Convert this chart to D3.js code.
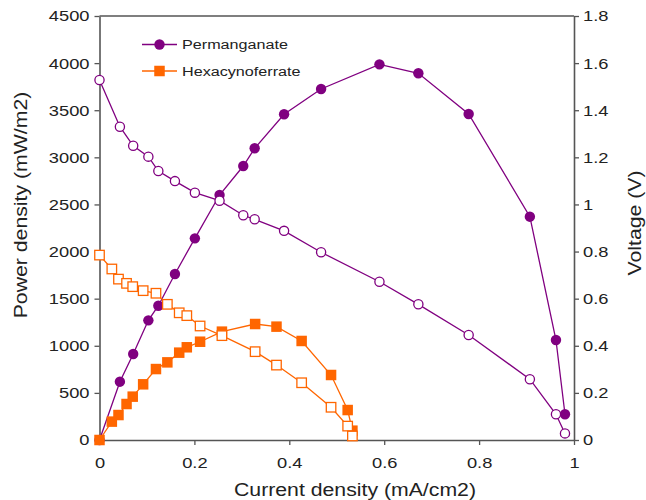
<!DOCTYPE html>
<html>
<head>
<meta charset="utf-8">
<script src="https://cdn.jsdelivr.net/npm/d3@7"></script>
<style>
  body { margin: 0; background: #fff; }
  svg { display: block; font-family: "Liberation Sans", Arial, sans-serif; }
</style>
</head>
<body>
<div id="vis"></div>
<script>
// values
const permCurrent = [0, 0.043, 0.071, 0.103, 0.124, 0.159, 0.201, 0.253, 0.303, 0.327, 0.389, 0.467, 0.590, 0.672, 0.778, 0.907, 0.962, 0.981]
const permPower   = [0, 619, 913, 1270, 1425, 1762, 2140, 2600, 2908, 3096, 3457, 3725, 3987, 3892, 3460, 2370, 1061, 273]
const permVoltage = [1.528, 1.330, 1.249, 1.203, 1.142, 1.099, 1.050, 1.016, 0.954, 0.937, 0.888, 0.797, 0.672, 0.576, 0.446, 0.258, 0.109, 0.028]

const hexaCurrent = [0, 0.026, 0.040, 0.057, 0.070, 0.092, 0.119, 0.143, 0.168, 0.184, 0.212, 0.258, 0.328, 0.373, 0.426, 0.488, 0.523, 0.533]
const hexaPower   = [0, 195, 265, 382, 460, 591, 753, 824, 927, 984, 1043, 1150, 1231, 1203, 1051, 690, 318, 99]
const hexaVoltage = [0.785, 0.726, 0.683, 0.665, 0.651, 0.634, 0.623, 0.576, 0.540, 0.528, 0.484, 0.443, 0.375, 0.318, 0.243, 0.139, 0.059, 0.017]

const xTicks = [0, 0.2, 0.4, 0.6, 0.8, 1]
const powerTicks = [0, 500, 1000, 1500, 2000, 2500, 3000, 3500, 4000, 4500]
const voltageTicks = [0, 0.2, 0.4, 0.6, 0.8, 1, 1.2, 1.4, 1.6, 1.8]

const purple = "#800080"
const orange = "#ff6600"
const axisColor = "#555"
const stretchK = 1.18   // the glyphs in the picture are a bit wider than Arial

var width = 646, height = 500
var plot = { left: 99.5, right: 574, top: 16, bottom: 440 }

var svg = d3.select("#vis").append("svg")
    .attr("width", width)
    .attr("height", height)

var x = d3.scaleLinear().domain([0, 1]).range([plot.left, plot.right])
var yP = d3.scaleLinear().domain([0, 4500]).range([plot.bottom, plot.top])
var yV = d3.scaleLinear().domain([0, 1.8]).range([plot.bottom, plot.top])

var fmt = d => String(+d.toFixed(1))

// widen text to match the picture
function stretch(sel) {
  sel.each(function () {
    var len = this.getComputedTextLength()
    d3.select(this).attr("textLength", len * stretchK).attr("lengthAdjust", "spacingAndGlyphs")
  })
}

function styleAxis(g) {
  g.select(".domain").attr("stroke", axisColor).attr("stroke-width", 1.6)
  g.selectAll(".tick line").attr("stroke", axisColor).attr("stroke-width", 1.3)
  g.selectAll(".tick text").attr("fill", "#222").style("font-size", "15.5px").call(stretch)
}

// top frame line
svg.append("line")
    .attr("x1", plot.left).attr("x2", plot.right)
    .attr("y1", plot.top).attr("y2", plot.top)
    .attr("stroke", axisColor).attr("stroke-width", 1.6)

svg.append("g")
    .attr("transform", "translate(0," + plot.bottom + ")")
    .call(d3.axisBottom(x).tickValues(xTicks).tickFormat(fmt).tickSize(5).tickSizeOuter(0).tickPadding(12))
    .call(styleAxis)

svg.append("g")
    .attr("transform", "translate(" + plot.left + ",0)")
    .call(d3.axisLeft(yP).tickValues(powerTicks).tickFormat(d => String(d)).tickSize(5).tickSizeOuter(0).tickPadding(5))
    .call(styleAxis)

svg.append("g")
    .attr("transform", "translate(" + plot.right + ",0)")
    .call(d3.axisRight(yV).tickValues(voltageTicks).tickFormat(fmt).tickSize(5).tickSizeOuter(0).tickPadding(4))
    .call(styleAxis)

// axis titles
svg.append("text")
    .attr("x", 355).attr("y", 496)
    .attr("text-anchor", "middle")
    .style("font-size", "18px").attr("fill", "#222")
    .text("Current density (mA/cm2)")
    .call(stretch)

svg.append("text")
    .attr("transform", "translate(27,205) rotate(-90)")
    .attr("text-anchor", "middle")
    .style("font-size", "18px").attr("fill", "#222")
    .text("Power density (mW/m2)")
    .call(stretch)

svg.append("text")
    .attr("transform", "translate(641,223) rotate(-90)")
    .attr("text-anchor", "middle")
    .style("font-size", "18px").attr("fill", "#222")
    .text("Voltage (V)")
    .call(stretch)

// series
var line = d3.line()

function drawSeries(xs, ys, yScale, color, shape, filled) {
  var pts = xs.map((d, i) => [x(d), yScale(ys[i])])
  var g = svg.append("g")
  g.append("path")
      .attr("d", line(pts))
      .attr("fill", "none")
      .attr("stroke", color)
      .attr("stroke-width", 1.3)
  if (shape === "circle") {
    g.selectAll("circle").data(pts).enter().append("circle")
        .attr("cx", d => d[0]).attr("cy", d => d[1])
        .attr("r", filled ? 5.2 : 4.6)
        .attr("fill", filled ? color : "#fff")
        .attr("stroke", color).attr("stroke-width", filled ? 0 : 1.3)
  } else {
    var s = filled ? 10.5 : 9.5
    g.selectAll("rect").data(pts).enter().append("rect")
        .attr("x", d => d[0] - s / 2).attr("y", d => d[1] - s / 2)
        .attr("width", s).attr("height", s)
        .attr("fill", filled ? color : "#fff")
        .attr("stroke", color).attr("stroke-width", filled ? 0 : 1.3)
  }
}

drawSeries(permCurrent, permPower, yP, purple, "circle", true)
drawSeries(permCurrent, permVoltage, yV, purple, "circle", false)
drawSeries(hexaCurrent, hexaPower, yP, orange, "square", true)
drawSeries(hexaCurrent, hexaVoltage, yV, orange, "square", false)

// legend
var legendItems = [
  { name: "Permanganate", color: purple, shape: "circle" },
  { name: "Hexacynoferrate", color: orange, shape: "square" }
]

var legend = svg.append("g").attr("transform", "translate(142,44.5)")
legendItems.forEach(function (d, i) {
  var row = legend.append("g").attr("transform", "translate(0," + (i * 26.5) + ")")
  row.append("line").attr("x1", 0).attr("x2", 35).attr("stroke", d.color).attr("stroke-width", 1.3)
  if (d.shape === "circle") {
    row.append("circle").attr("cx", 17.5).attr("r", 5.2).attr("fill", d.color)
  } else {
    row.append("rect").attr("x", 12.25).attr("y", -5.25).attr("width", 10.5).attr("height", 10.5).attr("fill", d.color)
  }
  row.append("text")
      .attr("x", 40).attr("dy", "0.36em")
      .style("font-size", "13.7px").attr("fill", "#222")
      .text(d.name)
      .call(stretch)
})
</script>
</body>
</html>
